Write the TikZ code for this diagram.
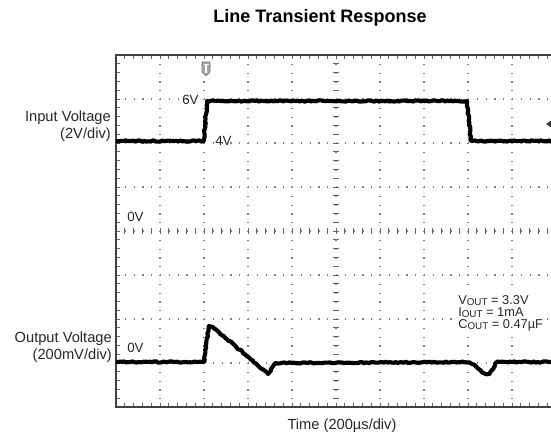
\documentclass[tikz,border=0pt]{standalone}
\usepackage{fontspec}
\setmainfont{Liberation Sans}
\usetikzlibrary{decorations.pathmorphing}

\newcommand\sublow[1]{\raisebox{-0.2ex}{\fontsize{7.4}{8}\selectfont #1}}

\tikzset{
  lbl/.style={font=\fontsize{11}{12.75}\selectfont, text=black!85, inner sep=0pt, align=right},
  volt/.style={font=\fontsize{10}{12}\selectfont, text=black!85, inner sep=0pt},
  parms/.style={font=\fontsize{9.6}{9}\selectfont, text=black!85, inner sep=0pt, anchor=base west},
  trace/.style={line width=3.1pt, black, line join=round, decorate,
                decoration={random steps, segment length=1.5pt, amplitude=0.5pt}},
  griddots/.style={black!50, line width=0.9pt, dash pattern=on 0.9pt off 5.7pt},
  tick/.style={black!60, line width=0.6pt}
}

\begin{document}
\begin{tikzpicture}[x=0.75pt,y=-0.75pt]
    \useasboundingbox (0,0) rectangle (551,439);
    \clip (0,0) rectangle (551,439);
    % title
    \node[font=\fontsize{13.5}{16}\selectfont\bfseries, inner sep=0pt] (title) at (320,18) {Line Transient Response};
    % grid
    \foreach \i in {1,...,9} \draw[griddots] ({116+44*\i},55) -- ({116+44*\i},407);
    \foreach \j in {1,...,7} \draw[griddots] (116,{55+44*\j}) -- (556,{55+44*\j});
    % ticks on the frame and on the centre lines
    \foreach \k in {1,...,49}
        \draw[tick] ({116+8.8*\k},55) -- ++(0,4) ({116+8.8*\k},407) -- ++(0,-4) ({116+8.8*\k},228) -- ++(0,6);
    \foreach \k in {1,...,39}
        \draw[tick] (116,{55+8.8*\k}) -- ++(4,0) (333,{55+8.8*\k}) -- ++(6,0);
    % outline
    \draw[black!75, line width=1.2pt] (116,55) rectangle (556,407);
    % traces
    \draw[trace] (116,141) -- (204,141) -- (207,101) -- (467,101) -- (471,141) -- (556,141);
    \draw[trace] (116,362) -- (204,362) -- (209,326) -- (213,327) -- (268,374) -- (276,363) -- (465,362)
          .. controls (478,364) and (482,374) .. (487,374)
          .. controls (492,374) and (494,363) .. (498,362) -- (556,362);
    % markers
    \filldraw[draw=black!55, fill=black!35] (202,62) -- (210,62) -- (210,72) -- (206,76) -- (202,72) -- cycle;
    \draw[white, line width=0.8pt] (203.5,64.5) -- (208.5,64.5) (206,64.5) -- (206,73);
    \fill[black!80] (546,124) -- (552,120) -- (552,128) -- cycle;
    % labels
    \node[lbl, anchor=base east] (inlbl) at (111,138) {Input Voltage\\(2V/div)};
    \node[lbl, anchor=base east] (outlbl) at (112,359) {Output Voltage\\(200mV/div)};
    \node[volt, anchor=west] (six) at (182,100) {6V};
    \node[volt, anchor=west] (four) at (215,141) {4V};
    \node[volt, anchor=west] (zeroin) at (127,217) {0V};
    \node[volt, anchor=west] (zeroout) at (127,348) {0V};
    \fill[white] (455,293) rectangle (545,331);
    \node[parms] (vout) at (458,304) {V\sublow{OUT} = 3.3V};
    \node[parms] (iout) at (458,316) {I\sublow{OUT} = 1mA};
    \node[parms] (cout) at (458,328) {C\sublow{OUT} = 0.47µF};
    \node[lbl, anchor=base] (time) at (342,429) {Time (200µs/div)};
\end{tikzpicture}
\end{document}
